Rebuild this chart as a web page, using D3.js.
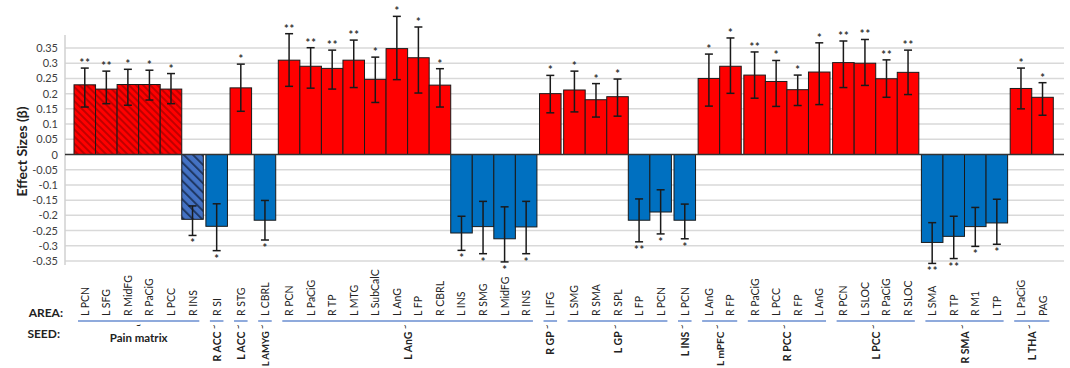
<!DOCTYPE html>
<html>
<head>
<meta charset="utf-8">
<script src="https://cdn.jsdelivr.net/npm/d3@7"></script>
<style>
  html, body { margin: 0; padding: 0; background: #fff; }
  svg { display: block; font-family: Lato, "Liberation Sans", sans-serif; }
</style>
</head>
<body>
<svg id="chart" width="1070" height="368"></svg>
<script>
// Seed regions and how many target areas each one has
const seeds = ["Pain matrix", "R ACC", "L ACC", "L AMYG", "L AnG", "R GP", "L GP",
  "L INS", "L mPFC", "R PCC", "L PCC", "R SMA", "L THA"];
const seedCounts = [6, 1, 1, 1, 12, 1, 5, 1, 2, 4, 4, 4, 2];

// Target areas, in drawing order
const areas = [
  "L PCN", "L SFG", "R MidFG", "R PaCiG", "L PCC", "R INS",
  "R SI",
  "R STG",
  "L CBRL",
  "R PCN", "L PaCiG", "R TP", "L MTG", "L SubCalC", "L AnG", "L FP", "R CBRL",
  "L INS", "R SMG", "L MidFG", "R INS",
  "L IFG",
  "L SMG", "R SMA", "R SPL", "L FP", "L PCN",
  "L PCN",
  "L AnG", "R FP",
  "R PaCiG", "L PCC", "R FP", "L AnG",
  "R PCN", "L SLOC", "R PaCiG", "R SLOC",
  "L SMA", "R TP", "R M1", "L TP",
  "L PaCiG", "PAG"
];

// Effect sizes (beta)
const betas = [
  0.229, 0.215, 0.230, 0.230, 0.215, -0.213,
  -0.236,
  0.219,
  -0.216,
  0.310, 0.290, 0.283, 0.310, 0.247, 0.348, 0.318, 0.228,
  -0.258, -0.237, -0.277, -0.238,
  0.200,
  0.212, 0.180, 0.190, -0.216, -0.189,
  -0.216,
  0.250, 0.290,
  0.261, 0.240, 0.213, 0.271,
  0.302, 0.300, 0.249, 0.270,
  -0.289, -0.269, -0.237, -0.225,
  0.217, 0.188
];

// Error bar ends
const errHigh = [
  0.284, 0.274, 0.280, 0.277, 0.266, -0.169,
  -0.162,
  0.297,
  -0.151,
  0.397, 0.351, 0.343, 0.376, 0.320, 0.454, 0.419, 0.282,
  -0.203, -0.154, -0.172, -0.154,
  0.260,
  0.274, 0.233, 0.248, -0.146, -0.116,
  -0.163,
  0.330, 0.383,
  0.337, 0.309, 0.261, 0.367,
  0.373, 0.378, 0.311, 0.343,
  -0.224, -0.203, -0.174, -0.147,
  0.284, 0.236
];
const errLow = [
  0.156, 0.167, 0.162, 0.179, 0.167, -0.266,
  -0.316,
  0.142,
  -0.281,
  0.224, 0.218, 0.215, 0.220, 0.171, 0.246, 0.202, 0.156,
  -0.315, -0.326, -0.353, -0.326,
  0.137,
  0.140, 0.123, 0.126, -0.287, -0.261,
  -0.277,
  0.159, 0.201,
  0.185, 0.158, 0.161, 0.164,
  0.220, 0.227, 0.188, 0.197,
  -0.358, -0.342, -0.302, -0.295,
  0.150, 0.129
];

// Significance markers
const stars = [
  "**", "**", "*", "*", "*", "*",
  "*",
  "*",
  "*",
  "**", "**", "**", "**", "*", "*", "*", "*",
  "*", "*", "*", "*",
  "*",
  "*", "*", "*", "**", "*",
  "*",
  "*", "*",
  "**", "*", "*", "*",
  "**", "**", "**", "**",
  "**", "**", "*", "*",
  "*", "*"
];

// Y axis ticks
const tickValues = [0.35, 0.3, 0.25, 0.2, 0.15, 0.1, 0.05, 0, -0.05, -0.1, -0.15, -0.2, -0.25, -0.3, -0.35];
const tickLabels = ["0.35", "0.3", "0.25", "0.2", "0.15", "0.1", "0.05", "0", "-0.05", "-0.1", "-0.15", "-0.2", "-0.25", "-0.3", "-0.35"];

// ---- layout ----
const GAP = 0.12; // space between seed groups, in bar widths
const rows = [];
let k = 0;
seeds.forEach((seed, g) => {
  for (let j = 0; j < seedCounts[g]; j++) {
    rows.push({
      i: k, seed, group: g, area: areas[k], beta: betas[k],
      hi: errHigh[k], lo: errLow[k], star: stars[k],
      pos: k + g * GAP
    });
    k++;
  }
});
const totalUnits = areas.length + (seeds.length - 1) * GAP;

const plotLeft = 65, plotRight = 1064;
const x = d3.scaleLinear().domain([0, totalUnits]).range([74, 1053.3]);
const y = d3.scaleLinear().domain([-0.35, 0.35]).range([261, 48]);

const svg = d3.select("#chart");
const H = +svg.attr("height");

// hatch fills for the pain-matrix seed
const defs = svg.append("defs");
const redHatch = defs.append("pattern").attr("id", "hatchRed")
  .attr("patternUnits", "userSpaceOnUse").attr("width", 5).attr("height", 5)
  .attr("patternTransform", "rotate(-45)");
redHatch.append("rect").attr("width", 5).attr("height", 5).attr("fill", "#ff0000");
redHatch.append("line").attr("x1", 1).attr("x2", 1).attr("y1", 0).attr("y2", 5)
  .attr("stroke", "#b00000").attr("stroke-width", 1.6);
const blueHatch = defs.append("pattern").attr("id", "hatchBlue")
  .attr("patternUnits", "userSpaceOnUse").attr("width", 6.5).attr("height", 6.5)
  .attr("patternTransform", "rotate(-45)");
blueHatch.append("rect").attr("width", 6.5).attr("height", 6.5).attr("fill", "#4472c4");
blueHatch.append("line").attr("x1", 1).attr("x2", 1).attr("y1", 0).attr("y2", 6.5)
  .attr("stroke", "#1f3864").attr("stroke-width", 2);

// gridlines
svg.append("g").selectAll("line").data(tickValues.filter(v => v !== 0)).join("line")
  .attr("x1", plotLeft).attr("x2", plotRight)
  .attr("y1", d => y(d)).attr("y2", d => y(d))
  .attr("stroke", "#d9d9d9").attr("stroke-width", 1.5);

// y axis
const yAxis = d3.axisLeft(y).tickValues(tickValues)
  .tickFormat((d, i) => tickLabels[i]).tickSize(0).tickPadding(7);
const ya = svg.append("g").attr("transform", `translate(${plotLeft},0)`).call(yAxis);
ya.select(".domain").remove();
ya.selectAll("text").attr("font-size", 11).attr("fill", "#404040")
  .attr("font-family", "Lato, sans-serif");
svg.append("line").attr("x1", plotLeft).attr("x2", plotLeft)
  .attr("y1", 35).attr("y2", 265).attr("stroke", "#d0d0d0").attr("stroke-width", 1.5);

svg.append("text")
  .attr("transform", `translate(21,${y(0) - 3}) rotate(-90)`)
  .attr("text-anchor", "middle").attr("dominant-baseline", "central")
  .attr("font-size", 14).attr("font-weight", "bold").attr("fill", "#222")
  .text("Effect Sizes (β)");

// bars
const barW = x(1) - x(0);
svg.append("g").selectAll("rect").data(rows).join("rect")
  .attr("x", d => x(d.pos))
  .attr("width", barW)
  .attr("y", d => y(Math.max(0, d.beta)))
  .attr("height", d => Math.abs(y(d.beta) - y(0)))
  .attr("fill", d => d.group === 0
    ? (d.beta > 0 ? "url(#hatchRed)" : "url(#hatchBlue)")
    : (d.beta > 0 ? "#ff0000" : "#0070c0"))
  .attr("stroke", "#1a1a1a").attr("stroke-width", 1);

// zero line
svg.append("line").attr("x1", plotLeft).attr("x2", plotRight)
  .attr("y1", y(0)).attr("y2", y(0)).attr("stroke", "#333").attr("stroke-width", 1.3);

// error bars
const eb = svg.append("g").attr("stroke", "#1a1a1a").attr("stroke-width", 1.5);
rows.forEach(d => {
  const cx = x(d.pos) + barW / 2;
  eb.append("line").attr("x1", cx).attr("x2", cx).attr("y1", y(d.hi)).attr("y2", y(d.lo));
  [d.hi, d.lo].forEach(v => eb.append("line")
    .attr("x1", cx - 4).attr("x2", cx + 4).attr("y1", y(v)).attr("y2", y(v)));
});

// significance stars
svg.append("g").selectAll("text").data(rows).join("text")
  .attr("x", d => x(d.pos) + barW / 2 + 0.5)
  .attr("y", d => d.beta > 0 ? y(Math.max(d.hi, d.lo)) - 1 : y(Math.min(d.hi, d.lo)) + 12)
  .attr("text-anchor", "middle").attr("font-size", 11).attr("letter-spacing", 1)
  .attr("font-weight", "bold").attr("fill", "#333")
  .text(d => d.star);

// area labels
svg.append("g").selectAll("text").data(rows).join("text")
  .attr("transform", d => `translate(${x(d.pos) + barW / 2},316) rotate(-90)`)
  .attr("text-anchor", "start").attr("dominant-baseline", "central")
  .attr("font-size", 10.5).attr("fill", "#222")
  .text(d => d.area);

// seed groups: underline and name
let start = 0;
const seedG = svg.append("g");
const seedTop = 325;
seeds.forEach((seed, g) => {
  const first = rows[start], last = rows[start + seedCounts[g] - 1];
  const x0 = x(first.pos), x1 = x(last.pos) + barW;
  const cx = (x0 + x1) / 2;
  seedG.append("line").attr("x1", x0 + 4).attr("x2", x1 - 4)
    .attr("y1", 321).attr("y2", 321).attr("stroke", "#8faadc").attr("stroke-width", 2);
  if (g === 0) {
    seedG.append("text").attr("x", cx).attr("y", 328).attr("text-anchor", "middle")
      .attr("font-size", 8).attr("font-weight", "bold").attr("fill", "#222").text("~");
    seedG.append("text").attr("x", cx).attr("y", 337).attr("text-anchor", "middle")
      .attr("dominant-baseline", "central")
      .attr("font-size", 11.5).attr("font-weight", "bold").attr("fill", "#222").text(seed);
  } else {
    const t = seedG.append("text")
      .attr("transform", `translate(${cx},${seedTop}) rotate(-90)`)
      .attr("text-anchor", "end").attr("dominant-baseline", "central")
      .attr("font-size", 10.5).attr("font-weight", "bold").attr("fill", "#222");
    t.append("tspan").text(seed + " ");
    t.append("tspan").attr("font-size", 7).attr("dy", -3).text("~");
    // shrink any name that would run past the bottom edge
    const room = H - seedTop - 2;
    const len = t.node().getComputedTextLength();
    if (len > room) t.attr("font-size", 10.5 * room / len);
  }
  start += seedCounts[g];
});

// row headings
svg.append("text").attr("x", 63).attr("y", 312).attr("text-anchor", "end")
  .attr("dominant-baseline", "central").attr("font-size", 12).attr("font-weight", "bold")
  .attr("fill", "#222").text("AREA:");
svg.append("text").attr("x", 60).attr("y", 333).attr("text-anchor", "end")
  .attr("dominant-baseline", "central").attr("font-size", 12).attr("font-weight", "bold")
  .attr("fill", "#222").text("SEED:");
</script>
</body>
</html>
